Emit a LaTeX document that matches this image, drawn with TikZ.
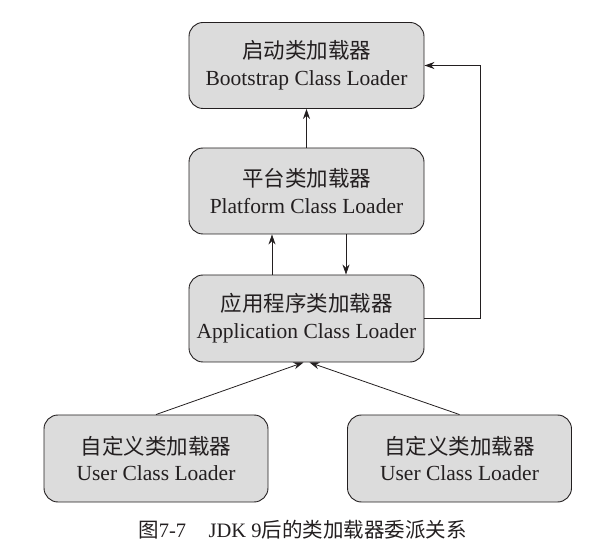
\documentclass[tikz,border=0pt]{standalone}
\usepackage{fontspec}
\setmainfont{Liberation Serif}
\newfontfamily\cjk{Noto Sans CJK SC}
\usetikzlibrary{arrows.meta}
\definecolor{boxfill}{RGB}{220,220,220}
\definecolor{inkc}{RGB}{35,31,32}
\begin{document}
\begin{tikzpicture}[x=1pt,y=-1pt,
  loader/.style={draw=inkc, line width=0.9pt, fill=boxfill, rounded corners=14pt,
    align=center, inner sep=0pt, text=inkc,
    font=\fontsize{21.5}{27}\selectfont},
  bigbox/.style={loader, minimum width=235pt, minimum height=86pt},
  userbox/.style={loader, minimum width=224pt, minimum height=87pt},
  arr/.style={draw=inkc, line width=0.8pt, -{Stealth[length=10pt,width=7pt]}}]
\useasboundingbox (0,0) rectangle (606,556);
\node[bigbox] (boot) at (306.5,65.5) {{\cjk 启动类加载器}\\Bootstrap Class Loader};
\node[bigbox] (plat) at (306.5,191) {{\cjk 平台类加载器}\\Platform Class Loader};
\node[bigbox, minimum height=87pt] (app) at (306.5,318.5) {{\cjk 应用程序类加载器}\\Application Class Loader};
\node[userbox] (uleft) at (156,458.5) {{\cjk 自定义类加载器}\\User Class Loader};
\node[userbox] (uright) at (459.5,458.5) {{\cjk 自定义类加载器}\\User Class Loader};
\node[text=inkc, font=\fontsize{20.5}{24}\selectfont, inner sep=0pt] (cap) at (302.5,530)
  {{\cjk 图}7-7\hspace{1.1em}JDK 9{\cjk 后的类加载器委派关系}};
\draw[arr] (plat.north) -- (boot.south);
\draw[arr] ([xshift=-34.5pt]app.north) -- ([xshift=-34.5pt]plat.south);
\draw[arr] ([xshift=39.5pt]plat.south) -- ([xshift=39.5pt]app.north);
\draw[arr] (app.east) -- ++(56,0) |- (boot.east);
\draw[arr] (uleft.north) -- ([xshift=-3pt]app.south);
\draw[arr] (uright.north) -- ([xshift=3pt]app.south);
\end{tikzpicture}
\end{document}
